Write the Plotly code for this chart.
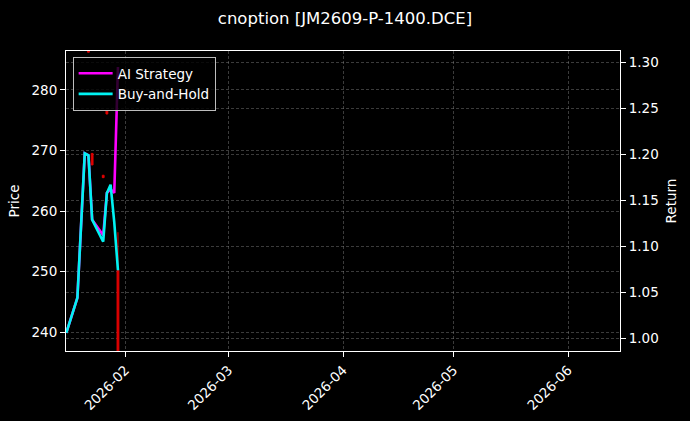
import plotly.graph_objects as go

# ---- data ----
line_dates = ["2026-01-16", "2026-01-19", "2026-01-21", "2026-01-22", "2026-01-23",
              "2026-01-26", "2026-01-27", "2026-01-28", "2026-01-29", "2026-01-30"]
ai_strategy = [1.006, 1.044, 1.201, 1.199, 1.129, 1.112, 1.158, 1.162, 1.158, 1.295]
buy_hold = [1.006, 1.044, 1.201, 1.199, 1.129, 1.105, 1.158, 1.167, 1.126, 1.074]

candle_dates = ["2026-01-22", "2026-01-23", "2026-01-26", "2026-01-27", "2026-01-30"]
c_open = [286.6, 269.5, 265.9, 276.5, 250.2]
c_high = [286.6, 269.5, 265.9, 276.5, 256.5]
c_low = [286.2, 267.6, 265.5, 276.0, 230.0]
c_close = [286.2, 267.6, 265.5, 276.0, 230.0]

title = "cnoption [JM2609-P-1400.DCE]"
x_range = ["2026-01-15 22:00", "2026-06-15 02:00"]
price_range = [236.9, 286.4]
return_range = [0.9862, 1.3123]

FONT = "DejaVu Sans"
GRID = "rgba(140,140,140,0.42)"
TS = 13.5

fig = go.Figure()

fig.add_trace(go.Candlestick(
    x=candle_dates, open=c_open, high=c_high, low=c_low, close=c_close,
    increasing=dict(line=dict(color="#e00000", width=1), fillcolor="#e00000"),
    decreasing=dict(line=dict(color="#e00000", width=1), fillcolor="#e00000"),
    showlegend=False, yaxis="y", hoverinfo="skip"))

fig.add_trace(go.Scatter(x=line_dates, y=ai_strategy, mode="lines", name="AI Strategy",
                         line=dict(color="#ff00ff", width=2.6), yaxis="y2"))
fig.add_trace(go.Scatter(x=line_dates, y=buy_hold, mode="lines", name="Buy-and-Hold",
                         line=dict(color="#00f2f2", width=2.6), yaxis="y2"))

fig.update_layout(
    width=690, height=421,
    paper_bgcolor="#000000", plot_bgcolor="#000000",
    font=dict(family=FONT, color="white", size=TS),
    margin=dict(l=66, r=70, t=51, b=70, autoexpand=False),
    title=dict(text=title, x=0.5, xanchor="center", y=0.957, yanchor="middle",
               font=dict(size=16.5, color="white", family=FONT)),
    showlegend=True,
    legend=dict(x=0.012, y=0.98, xanchor="left", yanchor="top",
                bgcolor="rgba(0,0,0,0.8)", bordercolor="rgba(210,210,210,0.9)", borderwidth=1,
                font=dict(size=TS, color="white", family=FONT),
                itemwidth=34, tracegroupgap=0),
    xaxis=dict(type="date", range=x_range, rangeslider=dict(visible=False), automargin=False,
               tick0="2026-02-01", dtick="M1", tickformat="%Y-%m", tickangle=-45,
               ticks="outside", ticklen=5, tickcolor="white",
               showline=True, linecolor="white", linewidth=1, mirror=True,
               showgrid=True, gridcolor=GRID, griddash="3px,2px", gridwidth=0.5,
               zeroline=False, tickfont=dict(size=TS, color="white")),
    yaxis=dict(range=price_range, tickvals=[240, 250, 260, 270, 280], automargin=False,
               title=dict(text="Price", font=dict(size=TS, color="white"), standoff=8),
               ticks="outside", ticklen=5, tickcolor="white",
               showline=True, linecolor="white", linewidth=1,
               showgrid=True, gridcolor=GRID, griddash="3px,2px", gridwidth=0.5,
               zeroline=False, tickfont=dict(size=TS, color="white")),
    yaxis2=dict(range=return_range, overlaying="y", side="right", automargin=False,
                tickvals=[1.00, 1.05, 1.10, 1.15, 1.20, 1.25, 1.30], tickformat=".2f",
                title=dict(text="Return", font=dict(size=TS, color="white"), standoff=8),
                ticks="outside", ticklen=5, tickcolor="white",
                showline=True, linecolor="white", linewidth=1,
                showgrid=True, gridcolor=GRID, griddash="3px,2px", gridwidth=0.5,
                zeroline=False, tickfont=dict(size=TS, color="white")),
)

fig.write_html("out.html", config={"displayModeBar": False},
               post_script="document.body.style.margin='0';document.body.style.background='#000';")
